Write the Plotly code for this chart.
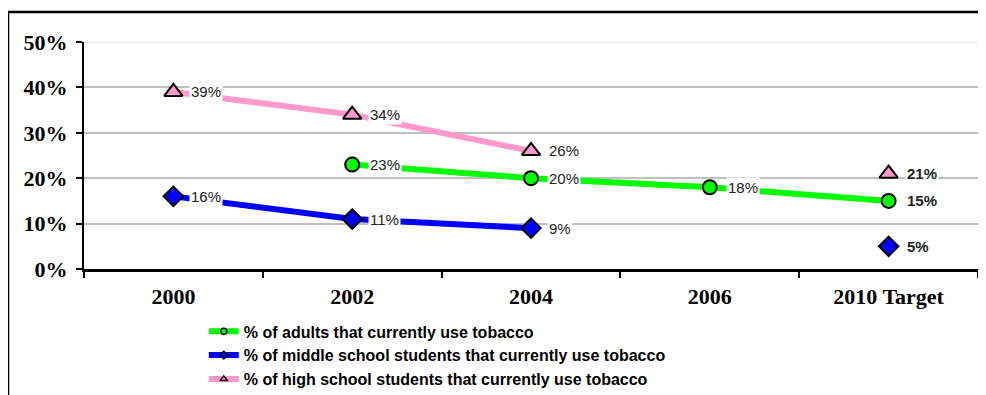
import plotly.graph_objects as go

# ── data ────────────────────────────────────────────────────────────────
years = ["2000", "2002", "2004", "2006", "2010 Target"]
adults = [None, 23, 20, 18, 15]
middle = [16, 11, 9, None, 5]
high = [39, 34, 26, None, 21]
y_ticks = [0, 10, 20, 30, 40, 50]

names = [
    "% of adults that currently use tobacco",
    "% of middle school students that currently use tobacco",
    "% of high school students that currently use tobacco",
]

COL = {"adults": "#00ff00", "middle": "#0000ff", "high": "#ff99cc"}
SERIF = "Liberation Serif"
SANS = "Liberation Sans"

series = [
    (adults, COL["adults"], "circle", 14),
    (middle, COL["middle"], "diamond", 15),
    (high, COL["high"], "triangle-up", 16),
]

fig = go.Figure()

# 실제 데이터 라인 (2006이 None이면 목표값과 선이 끊김)
for vals, color, sym, size in series:
    fig.add_trace(go.Scatter(
        x=years, y=vals,
        mode="lines+markers",
        line=dict(color=color, width=6),
        marker=dict(color=color, symbol=sym, size=size,
                    line=dict(color="black", width=2)),
        connectgaps=False,
        showlegend=False,
        hoverinfo="skip",
    ))

# 범례 전용 트레이스 (작은 마커)
for (vals, color, sym, size), name in zip(series, names):
    fig.add_trace(go.Scatter(
        x=[None], y=[None], name=name,
        mode="lines+markers",
        line=dict(color=color, width=6),
        marker=dict(color=color, symbol=sym, size=6,
                    line=dict(color="black", width=1.5)),
    ))

# 데이터 레이블 (흰 배경으로 선을 가림) - 카테고리 인덱스로 위치 지정
for vals, *_ in series:
    for i, v in enumerate(vals):
        if v is None:
            continue
        target = years[i] == "2010 Target"
        fig.add_annotation(
            x=i, y=v, text=f"<b>{v}%</b>" if target else f"{v}%",
            xanchor="left", yanchor="middle", xshift=16,
            showarrow=False, bgcolor="white", borderpad=1,
            font=dict(family=SANS, size=15, color="#222"),
        )

# 50% 눈금선은 옅은 회색
fig.add_shape(type="line", xref="paper", yref="y", x0=0, x1=1, y0=50, y1=50,
              line=dict(color="#ebebeb", width=2), layer="below")

# 바깥 테두리: 왼쪽과 위쪽 선만
fig.add_shape(type="line", xref="paper", yref="paper",
              x0=-0.085, x1=-0.085, y0=-0.7, y1=1.132,
              line=dict(color="black", width=2.5))
fig.add_shape(type="line", xref="paper", yref="paper",
              x0=-0.085, x1=1.2, y0=1.132, y1=1.132,
              line=dict(color="black", width=2.5))

# 페이지 body 여백(8px)을 고려한 크기와 여백
fig.update_layout(
    width=978, height=387,
    margin=dict(l=76, r=8, t=34, b=126, autoexpand=False),
    paper_bgcolor="white",
    plot_bgcolor="white",
    xaxis=dict(
        type="category", range=[-0.5, 4.5],
        tickson="boundaries", ticks="outside", ticklen=6, tickwidth=2,
        tickcolor="black", showgrid=False,
        showline=True, linecolor="black", linewidth=2.5,
        tickfont=dict(family=SERIF, size=22, color="black", weight="bold"),
        ticklabelstandoff=6,
    ),
    yaxis=dict(
        range=[0, 50], tickvals=y_ticks,
        ticktext=[f"{t}%" for t in y_ticks],
        ticks="outside", ticklen=6, tickwidth=2, tickcolor="black",
        showgrid=True, gridcolor="#c0c0c0", gridwidth=2,
        zeroline=False,
        showline=True, linecolor="black", linewidth=2,
        tickfont=dict(family=SERIF, size=22, color="black", weight="bold"),
        ticklabelstandoff=4,
    ),
    legend=dict(
        x=0.134, y=-0.2, xanchor="left", yanchor="top",
        font=dict(family=SANS, size=16, color="black", weight="bold"),
        bgcolor="rgba(0,0,0,0)", tracegroupgap=0,
    ),
)

fig.write_html("out.html", config={"displayModeBar": False})
